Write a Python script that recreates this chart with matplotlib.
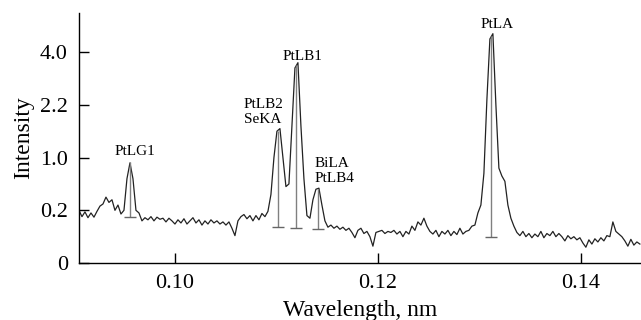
import numpy as np
import matplotlib
matplotlib.use("Agg")
import matplotlib.pyplot as plt

plt.rcParams['font.family'] = ['Liberation Serif', 'DejaVu Serif']

# spectrum, sampled on a uniform wavelength grid (nm); intensity in axis levels
wl_start = 0.09054
wl_step = 0.0002955
intensity = [
    1.0, 0.88, 0.97, 0.86, 0.95, 0.87,
    0.98, 1.08, 1.12, 1.25, 1.15,
    1.2, 1.0, 1.1, 0.93, 1.0,
    1.6, 1.9, 1.6, 1.0, 0.95,
    0.8, 0.86, 0.82, 0.88, 0.8, 0.87, 0.83, 0.85, 0.78, 0.85, 0.8, 0.74, 0.82,
    0.76, 0.84, 0.74, 0.8, 0.86, 0.76, 0.82, 0.72, 0.8, 0.74, 0.82, 0.76, 0.8,
    0.74, 0.78, 0.72, 0.78, 0.66, 0.52, 0.8, 0.88, 0.92, 0.84, 0.9, 0.8, 0.9,
    0.82, 0.94, 0.88, 0.98,
    1.3, 2.0, 2.5, 2.55, 2.0, 1.45, 1.5, 2.6, 3.7, 3.8, 2.6, 1.6, 0.9, 0.85,
    1.2, 1.4, 1.42, 1.1, 0.8, 0.68,
    0.72, 0.66, 0.7, 0.64, 0.68, 0.62, 0.66, 0.58, 0.48, 0.62, 0.66, 0.56,
    0.6, 0.5, 0.32, 0.58, 0.6, 0.62, 0.56, 0.6, 0.58, 0.62, 0.55, 0.6, 0.5,
    0.6, 0.55, 0.7, 0.62, 0.78,
    0.72, 0.85, 0.7, 0.6, 0.55, 0.62, 0.5, 0.6, 0.55, 0.62, 0.52, 0.6, 0.54,
    0.66, 0.55, 0.6, 0.62, 0.7, 0.72, 0.95,
    1.1, 1.7, 3.1, 4.25, 4.35, 3.0, 1.8, 1.65, 1.55, 1.1, 0.85, 0.7,
    0.58, 0.52, 0.6, 0.5, 0.56, 0.48, 0.55, 0.5, 0.6, 0.48, 0.56, 0.52, 0.6,
    0.5, 0.56, 0.5, 0.42, 0.52, 0.46, 0.5, 0.44, 0.48, 0.38, 0.3, 0.44, 0.36,
    0.46, 0.4, 0.48, 0.42, 0.52, 0.5, 0.78, 0.6, 0.55, 0.5, 0.42, 0.32, 0.45,
    0.34, 0.4, 0.36,
]
wavelength = wl_start + wl_step * np.arange(len(intensity))

# identified lines
line_wl = [0.09557, 0.11015, 0.11192, 0.11409, 0.13113]
line_top = [1.92, 2.5, 3.75, 1.4, 4.3]
line_bottom = [0.87, 0.68, 0.66, 0.645, 0.49]

label_text = ["PtLG1", "PtLB2\nSeKA", "PtLB1", "BiLA\nPtLB4", "PtLA"]
label_x = [0.09606, 0.10867, 0.11251, 0.11379, 0.13172]
label_y = [2.11, 2.86, 3.91, 1.74, 4.52]
label_ha = ["center", "center", "center", "left", "center"]

ytick_pos = [0, 1, 2, 3, 4]
ytick_labels = ["0", "0.2", "1.0", "2.2", "4.0"]
xtick_pos = [0.10, 0.12, 0.14]
xtick_labels = ["0.10", "0.12", "0.14"]

fig = plt.figure(figsize=(6.41, 3.2), dpi=100)
ax = fig.add_axes([0.1232, 0.178, 0.8768, 0.781])

ax.plot(wavelength, intensity, color='#222222', lw=0.9)
ax.vlines(line_wl, line_bottom, line_top, color='#808080', lw=1.0)
ax.plot(line_wl, line_bottom, ls='none', marker='_', ms=9, mew=1.0, color='#666666')

for t, x, y, ha in zip(label_text, label_x, label_y, label_ha):
    ax.text(x, y, t, ha=ha, va='center', fontsize=11, linespacing=1.2)

ax.set_xlim(0.09054, 0.14591)
ax.set_ylim(0, 4.74)
ax.set_xticks(xtick_pos)
ax.set_xticklabels(xtick_labels)
ax.set_yticks(ytick_pos)
ax.set_yticklabels(ytick_labels)
ax.tick_params(direction='in', length=7, width=1, labelsize=16, pad=8)
ax.set_xlabel("Wavelength, nm", fontsize=17, labelpad=5)
ax.set_ylabel("Intensity", fontsize=17, labelpad=4)

for s in ['top', 'right']:
    ax.spines[s].set_visible(False)
for s in ['left', 'bottom']:
    ax.spines[s].set_linewidth(1.0)

fig.savefig("out.png", dpi=100)
